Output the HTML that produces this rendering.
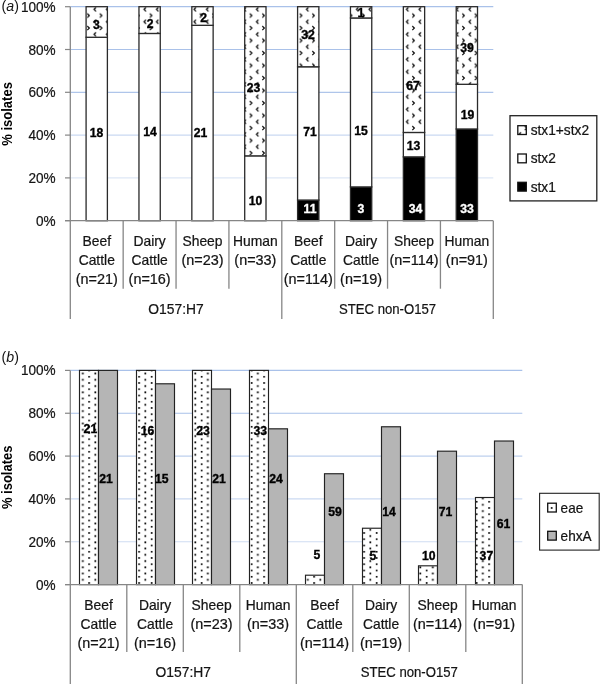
<!DOCTYPE html>
<html><head><meta charset="utf-8"><title>Figure</title>
<style>html,body{margin:0;padding:0;background:#fff;}svg{display:block;font-family:"Liberation Sans",sans-serif;will-change:transform;}</style>
</head><body>
<svg width="600" height="684" viewBox="0 0 600 684">
<defs>
<pattern id="divot" patternUnits="userSpaceOnUse" x="7.3" y="-0.8" width="12.5" height="12.5">
<rect width="12.5" height="12.5" fill="#fff"/>
<path d="M5.47,2.34 L7.03,3.91 L5.47,5.47" fill="none" stroke="#000" stroke-width="1.2" stroke-linecap="square" stroke-linejoin="miter"/>
<path d="M0.78,8.59 L-0.78,10.16 L0.78,11.72" fill="none" stroke="#000" stroke-width="1.2" stroke-linecap="square" stroke-linejoin="miter"/>
<path d="M13.28,8.59 L11.72,10.16 L13.28,11.72" fill="none" stroke="#000" stroke-width="1.2" stroke-linecap="square" stroke-linejoin="miter"/>
</pattern>
<pattern id="dots" patternUnits="userSpaceOnUse" x="0.8" y="0.9" width="12.5" height="6.25">
<rect width="12.5" height="6.25" fill="#fff"/>
<rect x="-0.08" y="-0.08" width="1.7225" height="1.7225" fill="#000"/>
<rect x="6.17" y="3.045" width="1.7225" height="1.7225" fill="#000"/>
</pattern>
</defs>
<line x1="70.3" x2="493.3" y1="177.90" y2="177.90" stroke="#a9c1e9" stroke-width="1.2" opacity="0.38"/>
<line x1="70.3" x2="493.3" y1="135.10" y2="135.10" stroke="#a9c1e9" stroke-width="1.2" opacity="0.62"/>
<line x1="70.3" x2="493.3" y1="92.30" y2="92.30" stroke="#a9c1e9" stroke-width="1.2" opacity="0.92"/>
<line x1="70.3" x2="493.3" y1="49.50" y2="49.50" stroke="#a9c1e9" stroke-width="1.2" opacity="1"/>
<line x1="70.3" x2="493.3" y1="6.70" y2="6.70" stroke="#a9c1e9" stroke-width="1.2" opacity="1"/>
<line x1="65.0" x2="70.3" y1="220.70" y2="220.70" stroke="#868686" stroke-width="1.2"/>
<g transform="translate(55.60,225.70) scale(0.97,1)"><text x="0" y="0" font-size="14" font-weight="normal" text-anchor="end" fill="#141414"  stroke="#141414" stroke-width="0.22">0%</text></g>
<line x1="65.0" x2="70.3" y1="177.90" y2="177.90" stroke="#868686" stroke-width="1.2"/>
<g transform="translate(55.60,182.90) scale(0.97,1)"><text x="0" y="0" font-size="14" font-weight="normal" text-anchor="end" fill="#141414"  stroke="#141414" stroke-width="0.22">20%</text></g>
<line x1="65.0" x2="70.3" y1="135.10" y2="135.10" stroke="#868686" stroke-width="1.2"/>
<g transform="translate(55.60,140.10) scale(0.97,1)"><text x="0" y="0" font-size="14" font-weight="normal" text-anchor="end" fill="#141414"  stroke="#141414" stroke-width="0.22">40%</text></g>
<line x1="65.0" x2="70.3" y1="92.30" y2="92.30" stroke="#868686" stroke-width="1.2"/>
<g transform="translate(55.60,97.30) scale(0.97,1)"><text x="0" y="0" font-size="14" font-weight="normal" text-anchor="end" fill="#141414"  stroke="#141414" stroke-width="0.22">60%</text></g>
<line x1="65.0" x2="70.3" y1="49.50" y2="49.50" stroke="#868686" stroke-width="1.2"/>
<g transform="translate(55.60,54.50) scale(0.97,1)"><text x="0" y="0" font-size="14" font-weight="normal" text-anchor="end" fill="#141414"  stroke="#141414" stroke-width="0.22">80%</text></g>
<line x1="65.0" x2="70.3" y1="6.70" y2="6.70" stroke="#868686" stroke-width="1.2"/>
<g transform="translate(55.60,11.70) scale(0.97,1)"><text x="0" y="0" font-size="14" font-weight="normal" text-anchor="end" fill="#141414"  stroke="#141414" stroke-width="0.22">100%</text></g>
<rect x="86.09" y="37.27" width="21.3" height="183.43" fill="#fff" stroke="#2a2a2a" stroke-width="1.3"/>
<rect x="86.09" y="6.70" width="21.3" height="30.57" fill="url(#divot)" stroke="#2a2a2a" stroke-width="1.3"/>
<rect x="138.96" y="33.45" width="21.3" height="187.25" fill="#fff" stroke="#2a2a2a" stroke-width="1.3"/>
<rect x="138.96" y="6.70" width="21.3" height="26.75" fill="url(#divot)" stroke="#2a2a2a" stroke-width="1.3"/>
<rect x="191.84" y="25.31" width="21.3" height="195.39" fill="#fff" stroke="#2a2a2a" stroke-width="1.3"/>
<rect x="191.84" y="6.70" width="21.3" height="18.61" fill="url(#divot)" stroke="#2a2a2a" stroke-width="1.3"/>
<rect x="244.71" y="155.85" width="21.3" height="64.85" fill="#fff" stroke="#2a2a2a" stroke-width="1.3"/>
<rect x="244.71" y="6.70" width="21.3" height="149.15" fill="url(#divot)" stroke="#2a2a2a" stroke-width="1.3"/>
<rect x="297.59" y="200.05" width="21.3" height="20.65" fill="#000" stroke="#2a2a2a" stroke-width="1.3"/>
<rect x="297.59" y="66.77" width="21.3" height="133.28" fill="#fff" stroke="#2a2a2a" stroke-width="1.3"/>
<rect x="297.59" y="6.70" width="21.3" height="60.07" fill="url(#divot)" stroke="#2a2a2a" stroke-width="1.3"/>
<rect x="350.46" y="186.91" width="21.3" height="33.79" fill="#000" stroke="#2a2a2a" stroke-width="1.3"/>
<rect x="350.46" y="17.96" width="21.3" height="168.95" fill="#fff" stroke="#2a2a2a" stroke-width="1.3"/>
<rect x="350.46" y="6.70" width="21.3" height="11.26" fill="url(#divot)" stroke="#2a2a2a" stroke-width="1.3"/>
<rect x="403.34" y="156.88" width="21.3" height="63.82" fill="#000" stroke="#2a2a2a" stroke-width="1.3"/>
<rect x="403.34" y="132.47" width="21.3" height="24.40" fill="#fff" stroke="#2a2a2a" stroke-width="1.3"/>
<rect x="403.34" y="6.70" width="21.3" height="125.77" fill="url(#divot)" stroke="#2a2a2a" stroke-width="1.3"/>
<rect x="456.21" y="128.99" width="21.3" height="91.71" fill="#000" stroke="#2a2a2a" stroke-width="1.3"/>
<rect x="456.21" y="84.30" width="21.3" height="44.68" fill="#fff" stroke="#2a2a2a" stroke-width="1.3"/>
<rect x="456.21" y="6.70" width="21.3" height="77.60" fill="url(#divot)" stroke="#2a2a2a" stroke-width="1.3"/>
<line x1="70.3" x2="70.3" y1="6.7" y2="319.0" stroke="#868686" stroke-width="1.3"/>
<line x1="65.0" x2="493.3" y1="220.7" y2="220.7" stroke="#868686" stroke-width="1.3"/>
<line x1="123.17" x2="123.17" y1="220.7" y2="288.7" stroke="#868686" stroke-width="1.3"/>
<line x1="176.05" x2="176.05" y1="220.7" y2="288.7" stroke="#868686" stroke-width="1.3"/>
<line x1="228.93" x2="228.93" y1="220.7" y2="288.7" stroke="#868686" stroke-width="1.3"/>
<line x1="281.80" x2="281.80" y1="220.7" y2="319.0" stroke="#868686" stroke-width="1.3"/>
<line x1="334.68" x2="334.68" y1="220.7" y2="288.7" stroke="#868686" stroke-width="1.3"/>
<line x1="387.55" x2="387.55" y1="220.7" y2="288.7" stroke="#868686" stroke-width="1.3"/>
<line x1="440.43" x2="440.43" y1="220.7" y2="288.7" stroke="#868686" stroke-width="1.3"/>
<line x1="493.30" x2="493.30" y1="220.7" y2="319.0" stroke="#868686" stroke-width="1.3"/>
<g transform="translate(96.74,245.90) scale(0.99,1)"><text x="0" y="0" font-size="14.0" font-weight="normal" text-anchor="middle" fill="#141414"  stroke="#141414" stroke-width="0.22">Beef</text></g>
<g transform="translate(96.74,264.90) scale(0.99,1)"><text x="0" y="0" font-size="14.0" font-weight="normal" text-anchor="middle" fill="#141414"  stroke="#141414" stroke-width="0.22">Cattle</text></g>
<g transform="translate(96.74,283.90) scale(1.03,1)"><text x="0" y="0" font-size="14.0" font-weight="normal" text-anchor="middle" fill="#141414"  stroke="#141414" stroke-width="0.22">(n=21)</text></g>
<g transform="translate(149.61,245.90) scale(0.99,1)"><text x="0" y="0" font-size="14.0" font-weight="normal" text-anchor="middle" fill="#141414"  stroke="#141414" stroke-width="0.22">Dairy</text></g>
<g transform="translate(149.61,264.90) scale(0.99,1)"><text x="0" y="0" font-size="14.0" font-weight="normal" text-anchor="middle" fill="#141414"  stroke="#141414" stroke-width="0.22">Cattle</text></g>
<g transform="translate(149.61,283.90) scale(1.03,1)"><text x="0" y="0" font-size="14.0" font-weight="normal" text-anchor="middle" fill="#141414"  stroke="#141414" stroke-width="0.22">(n=16)</text></g>
<g transform="translate(202.49,245.90) scale(0.99,1)"><text x="0" y="0" font-size="14.0" font-weight="normal" text-anchor="middle" fill="#141414"  stroke="#141414" stroke-width="0.22">Sheep</text></g>
<g transform="translate(202.49,264.90) scale(1.03,1)"><text x="0" y="0" font-size="14.0" font-weight="normal" text-anchor="middle" fill="#141414"  stroke="#141414" stroke-width="0.22">(n=23)</text></g>
<g transform="translate(255.36,245.90) scale(0.99,1)"><text x="0" y="0" font-size="14.0" font-weight="normal" text-anchor="middle" fill="#141414"  stroke="#141414" stroke-width="0.22">Human</text></g>
<g transform="translate(255.36,264.90) scale(1.03,1)"><text x="0" y="0" font-size="14.0" font-weight="normal" text-anchor="middle" fill="#141414"  stroke="#141414" stroke-width="0.22">(n=33)</text></g>
<g transform="translate(308.24,245.90) scale(0.99,1)"><text x="0" y="0" font-size="14.0" font-weight="normal" text-anchor="middle" fill="#141414"  stroke="#141414" stroke-width="0.22">Beef</text></g>
<g transform="translate(308.24,264.90) scale(0.99,1)"><text x="0" y="0" font-size="14.0" font-weight="normal" text-anchor="middle" fill="#141414"  stroke="#141414" stroke-width="0.22">Cattle</text></g>
<g transform="translate(308.24,283.90) scale(1.03,1)"><text x="0" y="0" font-size="14.0" font-weight="normal" text-anchor="middle" fill="#141414"  stroke="#141414" stroke-width="0.22">(n=114)</text></g>
<g transform="translate(361.11,245.90) scale(0.99,1)"><text x="0" y="0" font-size="14.0" font-weight="normal" text-anchor="middle" fill="#141414"  stroke="#141414" stroke-width="0.22">Dairy</text></g>
<g transform="translate(361.11,264.90) scale(0.99,1)"><text x="0" y="0" font-size="14.0" font-weight="normal" text-anchor="middle" fill="#141414"  stroke="#141414" stroke-width="0.22">Cattle</text></g>
<g transform="translate(361.11,283.90) scale(1.03,1)"><text x="0" y="0" font-size="14.0" font-weight="normal" text-anchor="middle" fill="#141414"  stroke="#141414" stroke-width="0.22">(n=19)</text></g>
<g transform="translate(413.99,245.90) scale(0.99,1)"><text x="0" y="0" font-size="14.0" font-weight="normal" text-anchor="middle" fill="#141414"  stroke="#141414" stroke-width="0.22">Sheep</text></g>
<g transform="translate(413.99,264.90) scale(1.03,1)"><text x="0" y="0" font-size="14.0" font-weight="normal" text-anchor="middle" fill="#141414"  stroke="#141414" stroke-width="0.22">(n=114)</text></g>
<g transform="translate(466.86,245.90) scale(0.99,1)"><text x="0" y="0" font-size="14.0" font-weight="normal" text-anchor="middle" fill="#141414"  stroke="#141414" stroke-width="0.22">Human</text></g>
<g transform="translate(466.86,264.90) scale(1.03,1)"><text x="0" y="0" font-size="14.0" font-weight="normal" text-anchor="middle" fill="#141414"  stroke="#141414" stroke-width="0.22">(n=91)</text></g>
<g transform="translate(176.05,314.30) scale(0.99,1)"><text x="0" y="0" font-size="14.0" font-weight="normal" text-anchor="middle" fill="#141414"  stroke="#141414" stroke-width="0.22">O157:H7</text></g>
<g transform="translate(387.55,314.30) scale(0.94,1)"><text x="0" y="0" font-size="14.0" font-weight="normal" text-anchor="middle" fill="#141414"  stroke="#141414" stroke-width="0.22">STEC non-O157</text></g>
<g transform="translate(96.50,137.40) scale(1.0,1)"><text x="0" y="0" font-size="12.2" font-weight="bold" text-anchor="middle" fill="#000"  stroke="#000" stroke-width="0.35">18</text></g>
<g transform="translate(96.50,29.40) scale(1.0,1)"><text x="0" y="0" font-size="12.2" font-weight="bold" text-anchor="middle" fill="#000"  stroke="#000" stroke-width="0.35">3</text></g>
<g transform="translate(150.00,135.90) scale(1.0,1)"><text x="0" y="0" font-size="12.2" font-weight="bold" text-anchor="middle" fill="#000"  stroke="#000" stroke-width="0.35">14</text></g>
<g transform="translate(150.20,27.90) scale(1.0,1)"><text x="0" y="0" font-size="12.2" font-weight="bold" text-anchor="middle" fill="#000"  stroke="#000" stroke-width="0.35">2</text></g>
<g transform="translate(200.50,136.90) scale(1.0,1)"><text x="0" y="0" font-size="12.2" font-weight="bold" text-anchor="middle" fill="#000"  stroke="#000" stroke-width="0.35">21</text></g>
<g transform="translate(203.70,22.40) scale(1.0,1)"><text x="0" y="0" font-size="12.2" font-weight="bold" text-anchor="middle" fill="#000"  stroke="#000" stroke-width="0.35">2</text></g>
<g transform="translate(253.50,91.90) scale(1.0,1)"><text x="0" y="0" font-size="12.2" font-weight="bold" text-anchor="middle" fill="#000"  stroke="#000" stroke-width="0.35">23</text></g>
<g transform="translate(255.50,205.40) scale(1.0,1)"><text x="0" y="0" font-size="12.2" font-weight="bold" text-anchor="middle" fill="#000"  stroke="#000" stroke-width="0.35">10</text></g>
<g transform="translate(308.00,39.40) scale(1.0,1)"><text x="0" y="0" font-size="12.2" font-weight="bold" text-anchor="middle" fill="#000"  stroke="#000" stroke-width="0.35">32</text></g>
<g transform="translate(310.00,135.90) scale(1.0,1)"><text x="0" y="0" font-size="12.2" font-weight="bold" text-anchor="middle" fill="#000"  stroke="#000" stroke-width="0.35">71</text></g>
<g transform="translate(361.00,135.40) scale(1.0,1)"><text x="0" y="0" font-size="12.2" font-weight="bold" text-anchor="middle" fill="#000"  stroke="#000" stroke-width="0.35">15</text></g>
<g transform="translate(361.00,17.40) scale(1.0,1)"><text x="0" y="0" font-size="12.2" font-weight="bold" text-anchor="middle" fill="#000"  stroke="#000" stroke-width="0.35">1</text></g>
<g transform="translate(413.00,90.40) scale(1.0,1)"><text x="0" y="0" font-size="12.2" font-weight="bold" text-anchor="middle" fill="#000"  stroke="#000" stroke-width="0.35">67</text></g>
<g transform="translate(413.60,149.90) scale(1.0,1)"><text x="0" y="0" font-size="12.2" font-weight="bold" text-anchor="middle" fill="#000"  stroke="#000" stroke-width="0.35">13</text></g>
<g transform="translate(467.00,51.90) scale(1.0,1)"><text x="0" y="0" font-size="12.2" font-weight="bold" text-anchor="middle" fill="#000"  stroke="#000" stroke-width="0.35">39</text></g>
<g transform="translate(467.50,118.90) scale(1.0,1)"><text x="0" y="0" font-size="12.2" font-weight="bold" text-anchor="middle" fill="#000"  stroke="#000" stroke-width="0.35">19</text></g>
<g transform="translate(310.00,213.40) scale(1.0,1)"><text x="0" y="0" font-size="12.2" font-weight="bold" text-anchor="middle" fill="#fff"  stroke="#fff" stroke-width="0.35">11</text></g>
<g transform="translate(361.00,213.40) scale(1.0,1)"><text x="0" y="0" font-size="12.2" font-weight="bold" text-anchor="middle" fill="#fff"  stroke="#fff" stroke-width="0.35">3</text></g>
<g transform="translate(415.50,213.40) scale(1.0,1)"><text x="0" y="0" font-size="12.2" font-weight="bold" text-anchor="middle" fill="#fff"  stroke="#fff" stroke-width="0.35">34</text></g>
<g transform="translate(467.00,213.40) scale(1.0,1)"><text x="0" y="0" font-size="12.2" font-weight="bold" text-anchor="middle" fill="#fff"  stroke="#fff" stroke-width="0.35">33</text></g>
<g transform="translate(12.3,113.9) rotate(-90) scale(1,1.15)"><text x="0" y="0" font-size="13" font-weight="bold" text-anchor="middle" fill="#000">% isolates</text></g>
<text x="1.6" y="11.4" font-size="14.2" fill="#141414">(<tspan font-style="italic">a</tspan>)</text>
<rect x="510.0" y="115.7" width="86.8" height="85.2" fill="#fff" stroke="#222222" stroke-width="1.3"/>
<rect x="517.8" y="125.70" width="8.5" height="8.8" fill="url(#divot)" stroke="#111" stroke-width="1.3"/>
<g transform="translate(530.70,135.10) scale(0.98,1)"><text x="0" y="0" font-size="14" font-weight="normal" text-anchor="start" fill="#141414"  stroke="#141414" stroke-width="0.22">stx1+stx2</text></g>
<rect x="517.8" y="154.00" width="8.5" height="8.8" fill="#fff" stroke="#111" stroke-width="1.3"/>
<g transform="translate(530.70,163.40) scale(0.98,1)"><text x="0" y="0" font-size="14" font-weight="normal" text-anchor="start" fill="#141414"  stroke="#141414" stroke-width="0.22">stx2</text></g>
<rect x="517.8" y="182.30" width="8.5" height="8.8" fill="#000" stroke="#111" stroke-width="1.3"/>
<g transform="translate(530.70,191.70) scale(0.98,1)"><text x="0" y="0" font-size="14" font-weight="normal" text-anchor="start" fill="#141414"  stroke="#141414" stroke-width="0.22">stx1</text></g>
<line x1="70.3" x2="522.3" y1="541.76" y2="541.76" stroke="#a9c1e9" stroke-width="1.2" opacity="0.55"/>
<line x1="70.3" x2="522.3" y1="498.92" y2="498.92" stroke="#a9c1e9" stroke-width="1.2" opacity="0.6"/>
<line x1="70.3" x2="522.3" y1="456.08" y2="456.08" stroke="#a9c1e9" stroke-width="1.2" opacity="0.75"/>
<line x1="70.3" x2="522.3" y1="413.24" y2="413.24" stroke="#a9c1e9" stroke-width="1.2" opacity="1"/>
<line x1="70.3" x2="522.3" y1="370.40" y2="370.40" stroke="#a9c1e9" stroke-width="1.2" opacity="1"/>
<line x1="65.0" x2="70.3" y1="584.60" y2="584.60" stroke="#868686" stroke-width="1.2"/>
<g transform="translate(55.60,589.60) scale(0.97,1)"><text x="0" y="0" font-size="14" font-weight="normal" text-anchor="end" fill="#141414"  stroke="#141414" stroke-width="0.22">0%</text></g>
<line x1="65.0" x2="70.3" y1="541.76" y2="541.76" stroke="#868686" stroke-width="1.2"/>
<g transform="translate(55.60,546.76) scale(0.97,1)"><text x="0" y="0" font-size="14" font-weight="normal" text-anchor="end" fill="#141414"  stroke="#141414" stroke-width="0.22">20%</text></g>
<line x1="65.0" x2="70.3" y1="498.92" y2="498.92" stroke="#868686" stroke-width="1.2"/>
<g transform="translate(55.60,503.92) scale(0.97,1)"><text x="0" y="0" font-size="14" font-weight="normal" text-anchor="end" fill="#141414"  stroke="#141414" stroke-width="0.22">40%</text></g>
<line x1="65.0" x2="70.3" y1="456.08" y2="456.08" stroke="#868686" stroke-width="1.2"/>
<g transform="translate(55.60,461.08) scale(0.97,1)"><text x="0" y="0" font-size="14" font-weight="normal" text-anchor="end" fill="#141414"  stroke="#141414" stroke-width="0.22">60%</text></g>
<line x1="65.0" x2="70.3" y1="413.24" y2="413.24" stroke="#868686" stroke-width="1.2"/>
<g transform="translate(55.60,418.24) scale(0.97,1)"><text x="0" y="0" font-size="14" font-weight="normal" text-anchor="end" fill="#141414"  stroke="#141414" stroke-width="0.22">80%</text></g>
<line x1="65.0" x2="70.3" y1="370.40" y2="370.40" stroke="#868686" stroke-width="1.2"/>
<g transform="translate(55.60,375.40) scale(0.97,1)"><text x="0" y="0" font-size="14" font-weight="normal" text-anchor="end" fill="#141414"  stroke="#141414" stroke-width="0.22">100%</text></g>
<rect x="79.50" y="370.40" width="19.0" height="214.20" fill="url(#dots)" stroke="#222222" stroke-width="1.15"/>
<rect x="98.50" y="370.40" width="19.0" height="214.20" fill="#b5b5b5" stroke="#222222" stroke-width="1.15"/>
<rect x="136.50" y="370.40" width="19.0" height="214.20" fill="url(#dots)" stroke="#222222" stroke-width="1.15"/>
<rect x="155.50" y="383.79" width="19.0" height="200.81" fill="#b5b5b5" stroke="#222222" stroke-width="1.15"/>
<rect x="192.50" y="370.40" width="19.0" height="214.20" fill="url(#dots)" stroke="#222222" stroke-width="1.15"/>
<rect x="211.50" y="389.03" width="19.0" height="195.57" fill="#b5b5b5" stroke="#222222" stroke-width="1.15"/>
<rect x="249.50" y="370.40" width="19.0" height="214.20" fill="url(#dots)" stroke="#222222" stroke-width="1.15"/>
<rect x="268.50" y="428.82" width="19.0" height="155.78" fill="#b5b5b5" stroke="#222222" stroke-width="1.15"/>
<rect x="305.50" y="575.21" width="19.0" height="9.39" fill="url(#dots)" stroke="#222222" stroke-width="1.15"/>
<rect x="324.50" y="473.74" width="19.0" height="110.86" fill="#b5b5b5" stroke="#222222" stroke-width="1.15"/>
<rect x="362.50" y="528.23" width="19.0" height="56.37" fill="url(#dots)" stroke="#222222" stroke-width="1.15"/>
<rect x="381.50" y="426.77" width="19.0" height="157.83" fill="#b5b5b5" stroke="#222222" stroke-width="1.15"/>
<rect x="418.50" y="565.81" width="19.0" height="18.79" fill="url(#dots)" stroke="#222222" stroke-width="1.15"/>
<rect x="437.50" y="451.19" width="19.0" height="133.41" fill="#b5b5b5" stroke="#222222" stroke-width="1.15"/>
<rect x="475.50" y="497.51" width="19.0" height="87.09" fill="url(#dots)" stroke="#222222" stroke-width="1.15"/>
<rect x="494.50" y="441.02" width="19.0" height="143.58" fill="#b5b5b5" stroke="#222222" stroke-width="1.15"/>
<line x1="70.3" x2="70.3" y1="370.4" y2="684" stroke="#868686" stroke-width="1.3"/>
<line x1="65.0" x2="522.3" y1="584.6" y2="584.6" stroke="#868686" stroke-width="1.3"/>
<line x1="126.80" x2="126.80" y1="584.6" y2="652.1" stroke="#868686" stroke-width="1.3"/>
<line x1="183.30" x2="183.30" y1="584.6" y2="652.1" stroke="#868686" stroke-width="1.3"/>
<line x1="239.80" x2="239.80" y1="584.6" y2="652.1" stroke="#868686" stroke-width="1.3"/>
<line x1="296.30" x2="296.30" y1="584.6" y2="684" stroke="#868686" stroke-width="1.3"/>
<line x1="352.80" x2="352.80" y1="584.6" y2="652.1" stroke="#868686" stroke-width="1.3"/>
<line x1="409.30" x2="409.30" y1="584.6" y2="652.1" stroke="#868686" stroke-width="1.3"/>
<line x1="465.80" x2="465.80" y1="584.6" y2="652.1" stroke="#868686" stroke-width="1.3"/>
<line x1="522.30" x2="522.30" y1="584.6" y2="684" stroke="#868686" stroke-width="1.3"/>
<g transform="translate(98.55,609.80) scale(0.99,1)"><text x="0" y="0" font-size="14.0" font-weight="normal" text-anchor="middle" fill="#141414"  stroke="#141414" stroke-width="0.22">Beef</text></g>
<g transform="translate(98.55,628.80) scale(0.99,1)"><text x="0" y="0" font-size="14.0" font-weight="normal" text-anchor="middle" fill="#141414"  stroke="#141414" stroke-width="0.22">Cattle</text></g>
<g transform="translate(98.55,647.80) scale(1.03,1)"><text x="0" y="0" font-size="14.0" font-weight="normal" text-anchor="middle" fill="#141414"  stroke="#141414" stroke-width="0.22">(n=21)</text></g>
<g transform="translate(155.05,609.80) scale(0.99,1)"><text x="0" y="0" font-size="14.0" font-weight="normal" text-anchor="middle" fill="#141414"  stroke="#141414" stroke-width="0.22">Dairy</text></g>
<g transform="translate(155.05,628.80) scale(0.99,1)"><text x="0" y="0" font-size="14.0" font-weight="normal" text-anchor="middle" fill="#141414"  stroke="#141414" stroke-width="0.22">Cattle</text></g>
<g transform="translate(155.05,647.80) scale(1.03,1)"><text x="0" y="0" font-size="14.0" font-weight="normal" text-anchor="middle" fill="#141414"  stroke="#141414" stroke-width="0.22">(n=16)</text></g>
<g transform="translate(211.55,609.80) scale(0.99,1)"><text x="0" y="0" font-size="14.0" font-weight="normal" text-anchor="middle" fill="#141414"  stroke="#141414" stroke-width="0.22">Sheep</text></g>
<g transform="translate(211.55,628.80) scale(1.03,1)"><text x="0" y="0" font-size="14.0" font-weight="normal" text-anchor="middle" fill="#141414"  stroke="#141414" stroke-width="0.22">(n=23)</text></g>
<g transform="translate(268.05,609.80) scale(0.99,1)"><text x="0" y="0" font-size="14.0" font-weight="normal" text-anchor="middle" fill="#141414"  stroke="#141414" stroke-width="0.22">Human</text></g>
<g transform="translate(268.05,628.80) scale(1.03,1)"><text x="0" y="0" font-size="14.0" font-weight="normal" text-anchor="middle" fill="#141414"  stroke="#141414" stroke-width="0.22">(n=33)</text></g>
<g transform="translate(324.55,609.80) scale(0.99,1)"><text x="0" y="0" font-size="14.0" font-weight="normal" text-anchor="middle" fill="#141414"  stroke="#141414" stroke-width="0.22">Beef</text></g>
<g transform="translate(324.55,628.80) scale(0.99,1)"><text x="0" y="0" font-size="14.0" font-weight="normal" text-anchor="middle" fill="#141414"  stroke="#141414" stroke-width="0.22">Cattle</text></g>
<g transform="translate(324.55,647.80) scale(1.03,1)"><text x="0" y="0" font-size="14.0" font-weight="normal" text-anchor="middle" fill="#141414"  stroke="#141414" stroke-width="0.22">(n=114)</text></g>
<g transform="translate(381.05,609.80) scale(0.99,1)"><text x="0" y="0" font-size="14.0" font-weight="normal" text-anchor="middle" fill="#141414"  stroke="#141414" stroke-width="0.22">Dairy</text></g>
<g transform="translate(381.05,628.80) scale(0.99,1)"><text x="0" y="0" font-size="14.0" font-weight="normal" text-anchor="middle" fill="#141414"  stroke="#141414" stroke-width="0.22">Cattle</text></g>
<g transform="translate(381.05,647.80) scale(1.03,1)"><text x="0" y="0" font-size="14.0" font-weight="normal" text-anchor="middle" fill="#141414"  stroke="#141414" stroke-width="0.22">(n=19)</text></g>
<g transform="translate(437.55,609.80) scale(0.99,1)"><text x="0" y="0" font-size="14.0" font-weight="normal" text-anchor="middle" fill="#141414"  stroke="#141414" stroke-width="0.22">Sheep</text></g>
<g transform="translate(437.55,628.80) scale(1.03,1)"><text x="0" y="0" font-size="14.0" font-weight="normal" text-anchor="middle" fill="#141414"  stroke="#141414" stroke-width="0.22">(n=114)</text></g>
<g transform="translate(494.05,609.80) scale(0.99,1)"><text x="0" y="0" font-size="14.0" font-weight="normal" text-anchor="middle" fill="#141414"  stroke="#141414" stroke-width="0.22">Human</text></g>
<g transform="translate(494.05,628.80) scale(1.03,1)"><text x="0" y="0" font-size="14.0" font-weight="normal" text-anchor="middle" fill="#141414"  stroke="#141414" stroke-width="0.22">(n=91)</text></g>
<g transform="translate(183.30,676.50) scale(0.99,1)"><text x="0" y="0" font-size="14.0" font-weight="normal" text-anchor="middle" fill="#141414"  stroke="#141414" stroke-width="0.22">O157:H7</text></g>
<g transform="translate(409.30,676.50) scale(0.94,1)"><text x="0" y="0" font-size="14.0" font-weight="normal" text-anchor="middle" fill="#141414"  stroke="#141414" stroke-width="0.22">STEC non-O157</text></g>
<g transform="translate(90.40,433.10) scale(1.0,1)"><text x="0" y="0" font-size="12.2" font-weight="bold" text-anchor="middle" fill="#000"  stroke="#000" stroke-width="0.35">21</text></g>
<g transform="translate(106.00,482.90) scale(1.0,1)"><text x="0" y="0" font-size="12.2" font-weight="bold" text-anchor="middle" fill="#000"  stroke="#000" stroke-width="0.35">21</text></g>
<g transform="translate(147.60,435.10) scale(1.0,1)"><text x="0" y="0" font-size="12.2" font-weight="bold" text-anchor="middle" fill="#000"  stroke="#000" stroke-width="0.35">16</text></g>
<g transform="translate(161.80,482.90) scale(1.0,1)"><text x="0" y="0" font-size="12.2" font-weight="bold" text-anchor="middle" fill="#000"  stroke="#000" stroke-width="0.35">15</text></g>
<g transform="translate(203.00,435.20) scale(1.0,1)"><text x="0" y="0" font-size="12.2" font-weight="bold" text-anchor="middle" fill="#000"  stroke="#000" stroke-width="0.35">23</text></g>
<g transform="translate(219.10,482.90) scale(1.0,1)"><text x="0" y="0" font-size="12.2" font-weight="bold" text-anchor="middle" fill="#000"  stroke="#000" stroke-width="0.35">21</text></g>
<g transform="translate(260.20,435.20) scale(1.0,1)"><text x="0" y="0" font-size="12.2" font-weight="bold" text-anchor="middle" fill="#000"  stroke="#000" stroke-width="0.35">33</text></g>
<g transform="translate(276.00,482.80) scale(1.0,1)"><text x="0" y="0" font-size="12.2" font-weight="bold" text-anchor="middle" fill="#000"  stroke="#000" stroke-width="0.35">24</text></g>
<g transform="translate(317.00,559.40) scale(1.0,1)"><text x="0" y="0" font-size="12.2" font-weight="bold" text-anchor="middle" fill="#000"  stroke="#000" stroke-width="0.35">5</text></g>
<g transform="translate(335.00,515.70) scale(1.0,1)"><text x="0" y="0" font-size="12.2" font-weight="bold" text-anchor="middle" fill="#000"  stroke="#000" stroke-width="0.35">59</text></g>
<g transform="translate(373.00,560.20) scale(1.0,1)"><text x="0" y="0" font-size="12.2" font-weight="bold" text-anchor="middle" fill="#000"  stroke="#000" stroke-width="0.35">5</text></g>
<g transform="translate(389.00,516.40) scale(1.0,1)"><text x="0" y="0" font-size="12.2" font-weight="bold" text-anchor="middle" fill="#000"  stroke="#000" stroke-width="0.35">14</text></g>
<g transform="translate(428.70,559.50) scale(1.0,1)"><text x="0" y="0" font-size="12.2" font-weight="bold" text-anchor="middle" fill="#000"  stroke="#000" stroke-width="0.35">10</text></g>
<g transform="translate(445.60,516.40) scale(1.0,1)"><text x="0" y="0" font-size="12.2" font-weight="bold" text-anchor="middle" fill="#000"  stroke="#000" stroke-width="0.35">71</text></g>
<g transform="translate(486.40,559.90) scale(1.0,1)"><text x="0" y="0" font-size="12.2" font-weight="bold" text-anchor="middle" fill="#000"  stroke="#000" stroke-width="0.35">37</text></g>
<g transform="translate(503.50,527.90) scale(1.0,1)"><text x="0" y="0" font-size="12.2" font-weight="bold" text-anchor="middle" fill="#000"  stroke="#000" stroke-width="0.35">61</text></g>
<g transform="translate(12.3,477.3) rotate(-90) scale(1,1.15)"><text x="0" y="0" font-size="13" font-weight="bold" text-anchor="middle" fill="#000">% isolates</text></g>
<text x="1.6" y="361.8" font-size="14.2" fill="#141414">(<tspan font-style="italic">b</tspan>)</text>
<rect x="539.6" y="493.3" width="59.6" height="56.8" fill="#fff" stroke="#222222" stroke-width="1.1"/>
<rect x="547.7" y="503.20" width="8.6" height="8.8" fill="url(#dots)" stroke="#111" stroke-width="1.3"/>
<g transform="translate(560.60,512.60) scale(0.97,1)"><text x="0" y="0" font-size="14" font-weight="normal" text-anchor="start" fill="#141414"  stroke="#141414" stroke-width="0.22">eae</text></g>
<rect x="547.7" y="531.30" width="8.6" height="8.8" fill="#b5b5b5" stroke="#111" stroke-width="1.3"/>
<g transform="translate(560.60,540.70) scale(0.97,1)"><text x="0" y="0" font-size="14" font-weight="normal" text-anchor="start" fill="#141414"  stroke="#141414" stroke-width="0.22">ehxA</text></g>
</svg></body></html>
